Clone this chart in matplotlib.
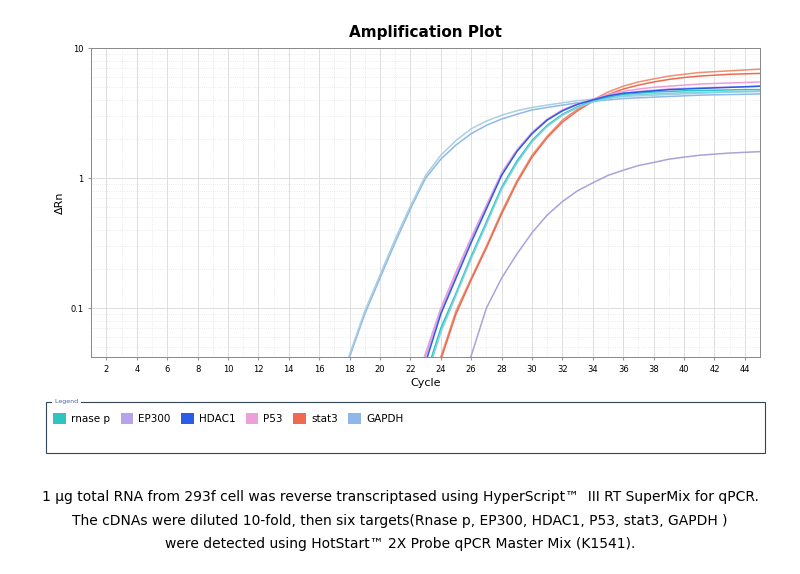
import matplotlib.pyplot as plt
from matplotlib.patches import Rectangle, Patch
from matplotlib.ticker import FixedLocator, NullFormatter

cycles = list(range(17, 46))
gapdh_a = [0.02, 0.042, 0.09, 0.17, 0.32, 0.58, 1.0, 1.4, 1.8, 2.2, 2.55, 2.85, 3.1, 3.35, 3.5,
           3.65, 3.8, 3.9, 4.0, 4.1, 4.15, 4.2, 4.25, 4.3, 4.35, 4.38, 4.4, 4.42, 4.45]
gapdh_b = [0.021, 0.044, 0.095, 0.18, 0.34, 0.61, 1.05, 1.5, 1.95, 2.4, 2.75, 3.05, 3.3, 3.5, 3.65,
           3.8, 3.95, 4.05, 4.15, 4.25, 4.3, 4.35, 4.4, 4.45, 4.5, 4.55, 4.6, 4.62, 4.65]
hdac1 = [0.005, 0.008, 0.01, 0.012, 0.015, 0.02, 0.038, 0.09, 0.17, 0.32, 0.58, 1.05, 1.6, 2.2,
         2.8, 3.3, 3.7, 4.0, 4.3, 4.5, 4.6, 4.7, 4.8, 4.85, 4.9, 4.95, 5.0, 5.05, 5.1]
p53_a = [0.005, 0.008, 0.01, 0.012, 0.015, 0.022, 0.045, 0.1, 0.19, 0.35, 0.62, 1.1, 1.65, 2.25,
         2.85, 3.35, 3.75, 4.05, 4.4, 4.65, 4.85, 5.0, 5.1, 5.2, 5.3, 5.35, 5.4, 5.45, 5.5]
p53_b = [0.005, 0.008, 0.01, 0.012, 0.015, 0.021, 0.042, 0.095, 0.18, 0.34, 0.6, 1.08, 1.62, 2.2,
         2.8, 3.3, 3.7, 4.0, 4.3, 4.5, 4.65, 4.75, 4.85, 4.9, 4.95, 5.0, 5.0, 5.05, 5.1]
rnase_a = [0.005, 0.008, 0.01, 0.012, 0.014, 0.018, 0.03, 0.07, 0.13, 0.25, 0.46, 0.85, 1.35, 1.95,
           2.55, 3.1, 3.55, 3.9, 4.2, 4.4, 4.5, 4.6, 4.65, 4.7, 4.72, 4.75, 4.78, 4.8, 4.8]
rnase_b = [0.005, 0.008, 0.01, 0.012, 0.014, 0.017, 0.028, 0.065, 0.125, 0.24, 0.44, 0.82, 1.3, 1.9,
           2.5, 3.05, 3.5, 3.85, 4.1, 4.3, 4.4, 4.45, 4.5, 4.55, 4.58, 4.6, 4.62, 4.65, 4.65]
stat3_a = [0.005, 0.008, 0.01, 0.012, 0.014, 0.016, 0.02, 0.042, 0.095, 0.17, 0.3, 0.55, 0.95, 1.5,
           2.1, 2.8, 3.4, 4.0, 4.6, 5.1, 5.5, 5.8, 6.1, 6.3, 6.5, 6.6, 6.7, 6.8, 6.9]
stat3_b = [0.005, 0.008, 0.01, 0.012, 0.014, 0.016, 0.019, 0.04, 0.09, 0.165, 0.29, 0.53, 0.92, 1.45,
           2.05, 2.7, 3.3, 3.9, 4.4, 4.85, 5.2, 5.5, 5.75, 5.95, 6.1, 6.2, 6.3, 6.35, 6.4]
ep300 = [0.005, 0.006, 0.007, 0.008, 0.009, 0.01, 0.011, 0.012, 0.025, 0.043, 0.1, 0.17, 0.26, 0.38,
         0.52, 0.66, 0.8, 0.92, 1.05, 1.15, 1.25, 1.32, 1.4, 1.45, 1.5, 1.53, 1.56, 1.58, 1.6]

targets = ["rnase p", "EP300", "HDAC1", "P53", "stat3", "GAPDH"]
colors = ["#2ec4c4", "#b7a3e8", "#2b5ce6", "#ec9fd9", "#ee6b50", "#8fb8ea"]
curves = [
    (gapdh_a, "#8fb8ea"), (gapdh_b, "#a9cfe0"),
    (ep300, "#a9a3d8"),
    (stat3_a, "#ee8f70"), (stat3_b, "#ee6b50"),
    (p53_a, "#ec9fd9"), (p53_b, "#d9a3e8"),
    (rnase_a, "#2ec4c4"), (rnase_b, "#7fd3e0"),
    (hdac1, "#2b5ce6"),
]
caption = ["1 μg total RNA from 293f cell was reverse transcriptased using HyperScript™  III RT SuperMix for qPCR.",
           "The cDNAs were diluted 10-fold, then six targets(Rnase p, EP300, HDAC1, P53, stat3, GAPDH )",
           "were detected using HotStart™ 2X Probe qPCR Master Mix (K1541)."]

fig = plt.figure(figsize=(8, 5.74), dpi=100)
ax = fig.add_axes([0.114, 0.378, 0.836, 0.538])
for ys, c in curves:
    ax.plot(cycles, ys, color=c, lw=1.1)
ax.set_yscale("log")
ax.set_xlim(1, 45)
ax.set_ylim(0.042, 10)
ax.set_xticks(range(2, 45, 2))
ax.xaxis.set_minor_locator(FixedLocator(range(1, 46)))
ax.set_yticks([0.1, 1, 10])
ax.set_yticklabels(["0.1", "1", "10"])
ax.yaxis.set_minor_formatter(NullFormatter())
ax.tick_params(labelsize=6, length=2, color="#999999")
ax.tick_params(which="minor", length=0)
ax.grid(which="major", color="#dddddd", lw=0.7)
ax.grid(which="minor", color="#e4e4e4", lw=0.6, ls=":")
for s in ax.spines.values():
    s.set_color("#888888")
    s.set_linewidth(0.7)
ax.set_xlabel("Cycle", fontsize=8, labelpad=3)
ax.set_ylabel("ΔRn", fontsize=8)
ax.set_title("Amplification Plot", fontsize=11, fontweight="bold", pad=8)

fig.patches.append(Rectangle((46 / 800, 1 - 453 / 574), 719 / 800, 51 / 574,
                             transform=fig.transFigure, fill=False, ec="#334455", lw=0.8))
fig.text(53 / 800, 1 - 402 / 574, " Legend ", fontsize=4.5, color="#4466aa", va="center",
         bbox=dict(fc="white", ec="none", pad=0.5))
handles = [Patch(fc=c, ec="none") for c in colors]
fig.legend(handles, targets, loc="upper left", bbox_to_anchor=(44 / 800, 1 - 404 / 574), ncol=6,
           frameon=False, fontsize=7.5, handlelength=1.2, handleheight=1.2, columnspacing=1.0,
           handletextpad=0.5)

for i, line in enumerate(caption):
    fig.text(0.5, 1 - (497 + 23.5 * i) / 574, line, ha="center", va="center", fontsize=10)

fig.savefig("out.png", dpi=100)
